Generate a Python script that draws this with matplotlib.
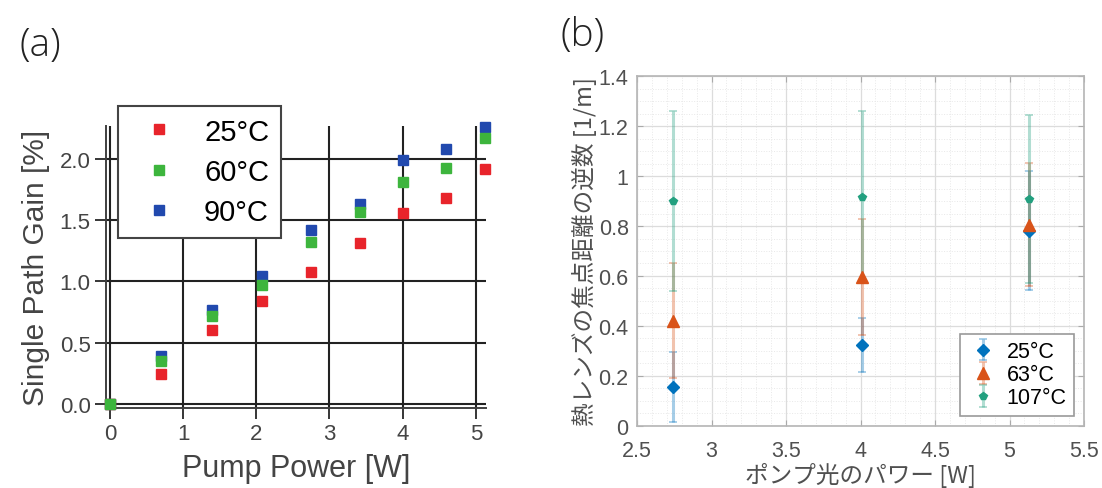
import matplotlib
matplotlib.use("Agg")
import matplotlib.pyplot as plt
from matplotlib.ticker import MultipleLocator

# ---------------- data (a) ----------------
pump_a = [0.0, 0.70, 1.40, 2.08, 2.75, 3.42, 4.01, 4.59, 5.13]
gain_25 = [0.0, 0.24, 0.60, 0.84, 1.08, 1.31, 1.56, 1.68, 1.92]
gain_60 = [0.0, 0.35, 0.72, 0.97, 1.32, 1.57, 1.81, 1.93, 2.17]
gain_90 = [0.0, 0.39, 0.77, 1.04, 1.42, 1.63, 1.99, 2.08, 2.26]
labels_a = ["25°C", "60°C", "90°C"]
yticks_a = [0.0, 0.5, 1.0, 1.5, 2.0]
xticks_a = [0, 1, 2, 3, 4, 5]

# ---------------- data (b) ----------------
pump_b = [2.74, 4.01, 5.13]
inv_25 = [0.155, 0.323, 0.782]
err_25 = [0.14, 0.108, 0.24]
inv_63 = [0.42, 0.595, 0.806]
err_63 = [0.23, 0.233, 0.245]
inv_107 = [0.90, 0.915, 0.909]
err_107 = [0.36, 0.345, 0.337]
labels_b = ["25°C", "63°C", "107°C"]

W, H = 1102, 489
fig = plt.figure(figsize=(W / 100, H / 100), dpi=100)

def fx(px):
    return px / W

def fy(py):
    return 1 - py / H

# ================= panel (a) =================
axa = fig.add_axes([fx(106), fy(409), fx(486 - 106), (409 - 127) / H])
c_red, c_green, c_blue = "#e8242b", "#3db53d", "#2149ae"
ms = 6.5
h90, = axa.plot(pump_a, gain_90, "s", color=c_blue, ms=ms, clip_on=False, zorder=3)
h25, = axa.plot(pump_a, gain_25, "s", color=c_red, ms=ms, clip_on=False, zorder=3)
h60, = axa.plot(pump_a, gain_60, "s", color=c_green, ms=ms, clip_on=False, zorder=3)
axa.set_xlim(-0.055, 5.14)
axa.set_ylim(-0.035, 2.27)
axa.set_xticks(xticks_a)
axa.set_yticks(yticks_a)
axa.set_yticklabels([f"{v:.1f}" for v in yticks_a])
axa.grid(True, color="#222222", linewidth=1.5)
for s in ["top", "right"]:
    axa.spines[s].set_visible(False)
for s in ["left", "bottom"]:
    axa.spines[s].set_color("#404040")
    axa.spines[s].set_linewidth(1.4)
axa.tick_params(direction="out", length=8, width=1.3, color="#262626",
                labelsize=16, labelcolor="#444444", pad=3)
for t in axa.get_xticklabels() + axa.get_yticklabels():
    t.set_family("Liberation Sans")
axa.set_xlabel("Pump Power [W]", fontsize=22, color="#444444",
               family="Liberation Sans", labelpad=6)
axa.set_ylabel("Single Path Gain [%]", fontsize=21.5, color="#444444",
               family="Liberation Sans", labelpad=7)
axa.set_axisbelow(True)
lega = axa.legend([h25, h60, h90], labels_a, loc="upper left",
                  bbox_to_anchor=(fx(118), fy(107)), bbox_transform=fig.transFigure,
                  prop={"family": "Liberation Sans", "size": 21},
                  frameon=True, fancybox=False, framealpha=1, edgecolor="#444444",
                  borderpad=0.4, labelspacing=0.42, handlelength=2.0,
                  handletextpad=0.55, borderaxespad=0, markerscale=1.1)
lega.get_frame().set_linewidth(1.5)
lega.set_zorder(5)

# ================= panel (b) =================
axb = fig.add_axes([fx(637), fy(426.7), fx(1084 - 637), (426.7 - 77.3) / H])
c_b1, c_b2, c_b3 = "#0072BD", "#D95319", "#22a07f"
series = [
    (inv_25, err_25, c_b1, "D", 6.5, labels_b[0]),
    (inv_63, err_63, c_b2, "^", 8.5, labels_b[1]),
    (inv_107, err_107, c_b3, "p", 6, labels_b[2]),
]
handles_b = []
for yv, ev, col, mk, msz, lab in series:
    cont = axb.errorbar(pump_b, yv, yerr=ev, fmt=mk, color=col, ms=msz,
                        ecolor=col, elinewidth=2.2, capsize=3, capthick=1.2,
                        label=lab, zorder=3)
    for cl in cont[1]:
        cl.set_alpha(0.4)
    for bl in cont[2]:
        bl.set_alpha(0.35)
    handles_b.append(cont)
axb.set_xlim(2.5, 5.5)
axb.set_ylim(0, 1.4)
axb.xaxis.set_minor_locator(MultipleLocator(0.1))
axb.yaxis.set_minor_locator(MultipleLocator(0.05))
xt_b = [2.5, 3, 3.5, 4, 4.5, 5, 5.5]
yt_b = [0, 0.2, 0.4, 0.6, 0.8, 1, 1.2, 1.4]
axb.set_xticks(xt_b)
axb.set_xticklabels([f"{v:g}" for v in xt_b])
axb.set_yticks(yt_b)
axb.set_yticklabels([f"{v:g}" for v in yt_b])
axb.grid(True, which="major", color="#dcdcdc", linewidth=0.9)
axb.grid(True, which="minor", color="#e8e8e8", linewidth=0.7, linestyle=":")
axb.set_axisbelow(True)
for s in axb.spines.values():
    s.set_color("#b5b5b5")
    s.set_linewidth(1.2)
axb.tick_params(which="major", direction="in", length=4, width=0.8, color="#aaaaaa",
                top=True, right=True, labelsize=15.5, labelcolor="#505050")
axb.tick_params(axis="y", which="major", pad=6)
axb.tick_params(axis="x", which="major", pad=10)
axb.tick_params(which="minor", length=0)
for t in axb.get_xticklabels() + axb.get_yticklabels():
    t.set_family("Liberation Sans")
cjk = ["Noto Sans CJK JP", "DejaVu Sans"]
axb.set_xlabel("ポンプ光のパワー [W]", fontsize=17, color="#505050", family=cjk, labelpad=1)
axb.set_ylabel("熱レンズの焦点距離の逆数 [1/m]", fontsize=17, color="#505050",
               family=cjk, labelpad=1)
legb = axb.legend(handles_b, labels_b, loc="lower right",
                  prop={"family": "Liberation Sans", "size": 15.5},
                  frameon=True, fancybox=False, framealpha=1, edgecolor="#9a9a9a",
                  borderpad=0.35, labelspacing=0.1, handlelength=1.4,
                  handletextpad=0.4, borderaxespad=0.45)
legb.get_frame().set_linewidth(1.2)

# ---------------- panel labels ----------------
fig.text(fx(40), fy(46), "(a)", fontsize=28, ha="center", va="center",
         family="Open Sans", weight="light", color="#222222")
fig.text(fx(583), fy(36), "(b)", fontsize=28, ha="center", va="center",
         family="Open Sans", weight="light", color="#222222")

fig.savefig("out.png", dpi=100)
